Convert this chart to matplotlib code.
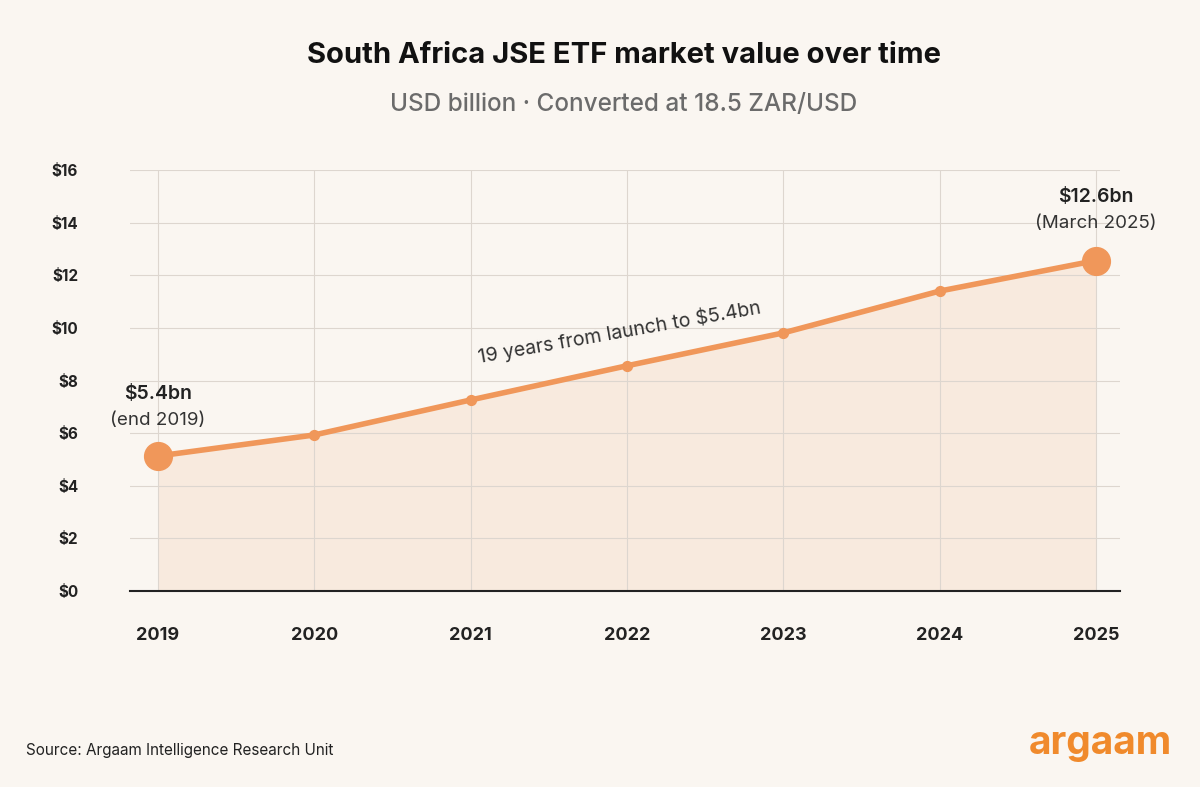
import matplotlib.pyplot as plt

years = [2019, 2020, 2021, 2022, 2023, 2024, 2025]
values = [5.13, 5.93, 7.26, 8.56, 9.81, 11.4, 12.56]
yticks = [0, 2, 4, 6, 8, 10, 12, 14, 16]
ylabels = ['$0', '$2', '$4', '$6', '$8', '$10', '$12', '$14', '$16']

bg = '#faf6f1'
orange = '#f0975a'
plt.rcParams['font.family'] = ['Inter', 'DejaVu Sans']

fig = plt.figure(figsize=(12, 7.87), dpi=100, facecolor=bg)
ax = fig.add_axes([0.108, 0.249, 0.825, 0.535], facecolor=bg)

ax.fill_between(years, values, 0, color=orange, alpha=0.12, lw=0)
ax.plot(years, values, color=orange, lw=4, zorder=3, solid_capstyle='round')
ax.scatter(years[1:-1], values[1:-1], s=50, color=orange, zorder=4)
ax.scatter([years[0], years[-1]], [values[0], values[-1]], s=400, color=orange, zorder=4)

ax.set_xlim(2018.82, 2025.15)
ax.set_ylim(0, 16)
ax.set_yticks(yticks)
ax.set_yticklabels(ylabels, fontsize=11, fontweight='bold', color='#222222')
ax.set_xticks(years)
ax.set_xticklabels([str(y) for y in years], fontsize=13, fontweight='bold', color='#222222')
ax.tick_params(axis='x', length=0, pad=26)
ax.tick_params(axis='y', length=0, pad=37)
ax.grid(True, color='#ddd6cf', lw=0.8)
for s in ['top', 'right', 'left']:
    ax.spines[s].set_visible(False)
ax.spines['bottom'].set_color('#222222')
ax.spines['bottom'].set_linewidth(1.5)

ax.text(2019, 7.3, '$5.4bn', ha='center', fontsize=14, fontweight='semibold', color='#222222')
ax.text(2019, 6.3, '(end 2019)', ha='center', fontsize=13.5, color='#333333')
ax.text(2025, 14.8, '$12.6bn', ha='center', fontsize=14, fontweight='semibold', color='#222222')
ax.text(2025, 13.8, '(March 2025)', ha='center', fontsize=13.5, color='#333333')
ax.text(2021.95, 9.85, '19 years from launch to $5.4bn', ha='center', va='center',
        rotation=10, fontsize=14, color='#333333')

fig.text(0.52, 0.929, 'South Africa JSE ETF market value over time', ha='center',
         va='center', fontsize=21, fontweight='bold', color='#111111')
fig.text(0.52, 0.867, 'USD billion · Converted at 18.5 ZAR/USD', ha='center',
         va='center', fontsize=17.5, fontweight='medium', color='#6b6b6b')
fig.text(0.022, 0.047, 'Source: Argaam Intelligence Research Unit', fontsize=11, color='#222222', va='center')
fig.text(0.977, 0.055, 'argaam', ha='right', va='center', fontsize=28, fontweight='bold', color='#f08a2c')

fig.savefig('out.png', dpi=100, facecolor=bg)
